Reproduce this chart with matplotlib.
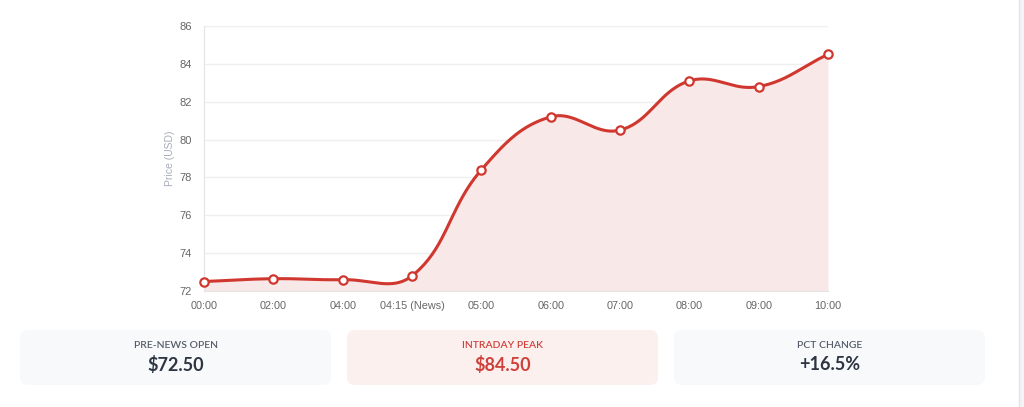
import numpy as np
import matplotlib
matplotlib.use("Agg")
import matplotlib.pyplot as plt
from matplotlib.patches import FancyBboxPatch, Rectangle

times = ["00:00", "02:00", "04:00", "04:15 (News)", "05:00",
         "06:00", "07:00", "08:00", "09:00", "10:00"]
prices = [72.5, 72.65, 72.6, 72.8, 78.4, 81.2, 80.5, 83.1, 82.8, 84.5]

card_labels = ["PRE-NEWS OPEN", "INTRADAY PEAK", "PCT CHANGE"]
card_values = ["$72.50", "$84.50", "+16.5%"]

LINE = "#d0372f"
FILL = "#f8e8e7"
TICK = "#666666"
GRID = "#efefef"

plt.rcParams['font.family'] = ['Liberation Sans', 'DejaVu Sans']

W, H = 1024, 407
fig = plt.figure(figsize=(W / 100, H / 100), dpi=100)
fig.patch.set_facecolor("white")

# plot area in pixels: x 204..828, y 26..291
ax = fig.add_axes([204 / W, 1 - 291 / H, (828 - 204) / W, (291 - 26) / H])

ymin, ymax = 72, 86
n = len(prices)
xs = np.arange(n)

# Chart.js-style bezier (tension 0.4), computed in pixel space
px_x = (828 - 204) / (n - 1)
px_y = (291 - 26) / (ymax - ymin)
P = np.column_stack([xs * px_x, np.array(prices) * px_y])
t = 0.4
cp_prev = P.copy()
cp_next = P.copy()
for i in range(n):
    prev = P[max(i - 1, 0)]
    nxt = P[min(i + 1, n - 1)]
    d01 = np.hypot(*(P[i] - prev))
    d12 = np.hypot(*(nxt - P[i]))
    tot = d01 + d12
    s01 = d01 / tot if tot else 0
    s12 = d12 / tot if tot else 0
    cp_prev[i] = P[i] - t * s01 * (nxt - prev)
    cp_next[i] = P[i] + t * s12 * (nxt - prev)

curve = []
u = np.linspace(0, 1, 40)[:, None]
for i in range(n - 1):
    b0, b1, b2, b3 = P[i], cp_next[i], cp_prev[i + 1], P[i + 1]
    seg = ((1 - u) ** 3) * b0 + 3 * ((1 - u) ** 2) * u * b1 + 3 * (1 - u) * u ** 2 * b2 + u ** 3 * b3
    curve.append(seg if i == 0 else seg[1:])
curve = np.vstack(curve)
cx = curve[:, 0] / px_x
cy = curve[:, 1] / px_y

ax.fill_between(cx, ymin, cy, color=FILL, lw=0, zorder=1)
ax.plot(cx, cy, color=LINE, lw=2.2, zorder=3, solid_capstyle="round")
ax.plot(xs, prices, "o", ms=6, mfc="white", mec=LINE, mew=1.6, zorder=4, clip_on=False)

ax.set_xlim(0, n - 1)
ax.set_ylim(ymin, ymax)
ax.set_yticks(np.arange(72, 87, 2))
ax.set_xticks(xs)
ax.set_xticklabels(times)
ax.grid(axis="y", color=GRID, lw=1, zorder=0)
ax.set_axisbelow(True)
for s in ["top", "right"]:
    ax.spines[s].set_visible(False)
ax.spines["left"].set_color("#e4e4e4")
ax.spines["bottom"].set_color("#e4e4e4")
ax.tick_params(axis="both", length=0, labelsize=7.8, colors=TICK, pad=7)
ax.tick_params(axis="y", pad=9, labelsize=8)
ax.set_ylabel("Price (USD)", color="#a7adb8", fontsize=7.5)
ax.yaxis.set_label_coords(-0.047, 0.5)

# summary cards
card_x = [20, 347, 674]
card_w = 311
card_y, card_h = 330, 55
bg = ["#f8f9fb", "#fcf0ef", "#f8f9fb"]
lab_c = ["#555d6a", "#d0403a", "#555d6a"]
val_c = ["#2d3542", "#d0403a", "#2d3542"]
for i in range(3):
    x0 = card_x[i] / W
    y0 = 1 - (card_y + card_h) / H
    fig.patches.append(FancyBboxPatch((x0, y0), card_w / W, card_h / H,
                                      boxstyle="round,pad=0,rounding_size=0.008",
                                      transform=fig.transFigure, fc=bg[i], ec="none",
                                      mutation_aspect=W / H))
    cxp = (card_x[i] + card_w / 2) / W
    fig.text(cxp, 1 - 346 / H, card_labels[i], ha="center", va="center",
             fontsize=7.5, fontweight="semibold", color=lab_c[i], family=["Lato", "DejaVu Sans"])
    fig.text(cxp, 1 - 365 / H, card_values[i], ha="center", va="center",
             fontsize=13, fontweight="bold", color=val_c[i], family=["Lato", "DejaVu Sans"])

# right page edge
fig.patches.append(Rectangle((1019 / W, 0), 5 / W, 1, transform=fig.transFigure,
                             fc="#f3f4f6", ec="none"))
fig.lines.append(plt.Line2D([1019 / W, 1019 / W], [0, 1], transform=fig.transFigure,
                            color="#e2e4e8", lw=1))

fig.savefig("out.png", dpi=100)
